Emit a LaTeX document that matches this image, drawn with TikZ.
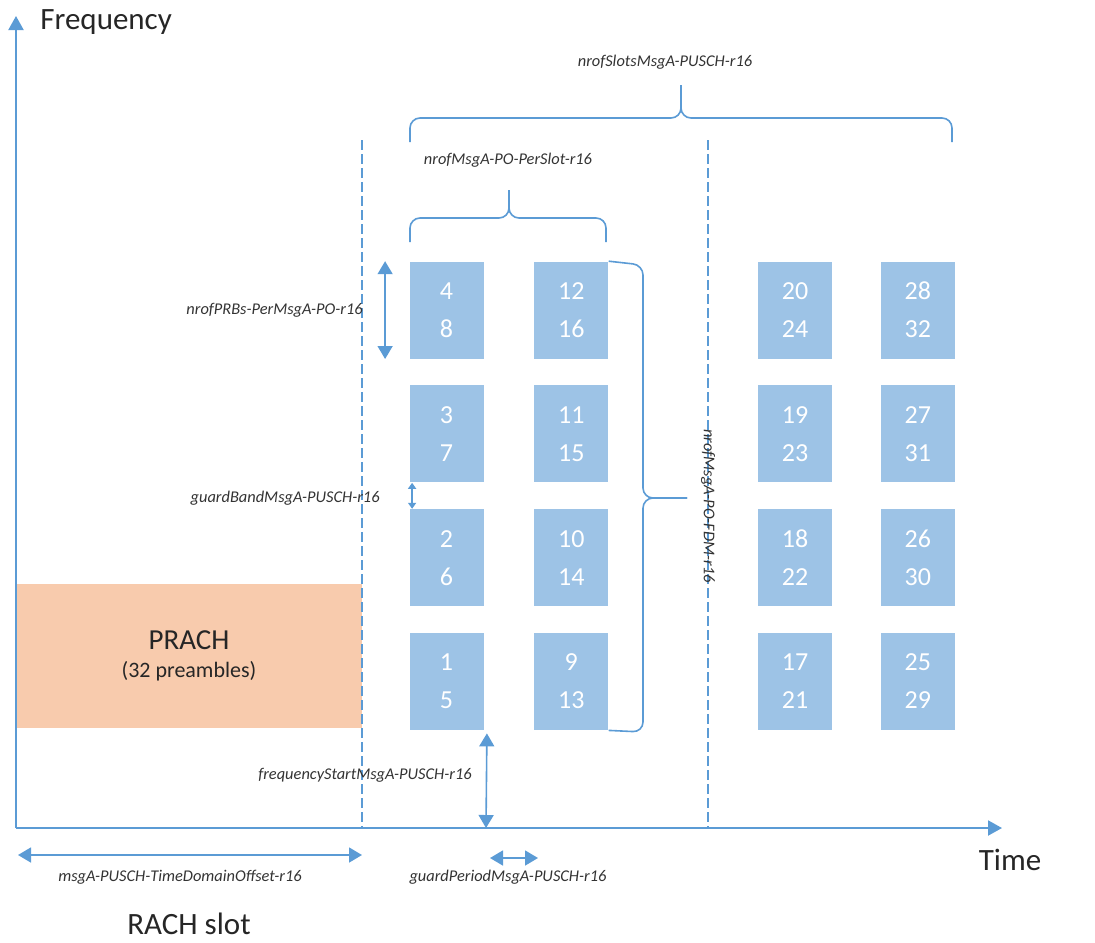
\documentclass[tikz,border=0pt]{standalone}
\usepackage{fontspec}
\setmainfont{Carlito}
\usetikzlibrary{arrows.meta}
\usetikzlibrary{positioning}
\definecolor{axblue}{HTML}{5B9BD5}
\definecolor{poblue}{HTML}{9DC3E6}
\definecolor{prachorange}{HTML}{F8CBAD}

\begin{document}
\begin{tikzpicture}[x=0.5pt,y=-0.5pt,
    po/.style={fill=poblue, text=white, minimum width=37pt, minimum height=48.5pt,
      inner sep=0pt, align=center, font=\fontsize{13}{19}\selectfont},
    lbl/.style={font=\fontsize{8.2}{9}\selectfont\itshape, text=black!80, inner sep=0pt},
    big/.style={font=\fontsize{15.5}{17}\selectfont, text=black!85, inner sep=0pt},
    dim/.style={draw=axblue, line width=0.8pt,
      {Triangle[width=7.5pt,length=6.5pt]}-{Triangle[width=7.5pt,length=6.5pt]}},
    gbdim/.style={draw=axblue, line width=0.8pt,
      {Triangle[width=4pt,length=3pt]}-{Triangle[width=4pt,length=3pt]}},
    axis/.style={draw=axblue, line width=1pt, -{Triangle[width=7.5pt,length=7pt]}},
    brc/.style={draw=axblue, line width=0.8pt, rounded corners=5pt},
    slot/.style={draw=axblue, line width=0.8pt, dash pattern=on 5pt off 2pt}]
  \useasboundingbox (0,0) rectangle (1095,942);

  \node[fill=prachorange, minimum width=173pt, minimum height=72pt, inner sep=0pt,
    align=center, text=black!85, font=\fontsize{14.5}{14}\selectfont] (pr) at (189,656)
    {PRACH\\{\fontsize{11}{14}\selectfont(32 preambles)}};

  \coordinate (o) at (16,828);
  \coordinate (fy) at (16,16);
  \coordinate (tx) at (1002,828);
  \coordinate (s1t) at (362,140);
  \coordinate (s1b) at (362,828);
  \coordinate (s2t) at (708,140);
  \coordinate (s2b) at (708,828);

  \draw[slot] (s1t) -- (s1b);
  \draw[slot] (s2t) -- (s2b);
  \draw[axis] (o) -- (fy);
  \draw[axis] (o) -- (tx);

  \node[po] (a1) at (446.5,681.5) {1\\5};
  \node[po, above=13pt of a1] (a2) {2\\6};
  \node[po, above=13pt of a2] (a3) {3\\7};
  \node[po, above=13pt of a3] (a4) {4\\8};
  \node[po, right=25pt of a1] (b1) {9\\13};
  \node[po, right=25pt of a2] (b2) {10\\14};
  \node[po, right=25pt of a3] (b3) {11\\15};
  \node[po, right=25pt of a4] (b4) {12\\16};
  \node[po, right=74.5pt of b1] (c1) {17\\21};
  \node[po, right=74.5pt of b2] (c2) {18\\22};
  \node[po, right=74.5pt of b3] (c3) {19\\23};
  \node[po, right=74.5pt of b4] (c4) {20\\24};
  \node[po, right=24pt of c1] (d1) {25\\29};
  \node[po, right=24pt of c2] (d2) {26\\30};
  \node[po, right=24pt of c3] (d3) {27\\31};
  \node[po, right=24pt of c4] (d4) {28\\32};

  \draw[brc] (410,142) -- (410,118) -- (681,118) -- (681,85);
  \draw[brc] (952,142) -- (952,118) -- (681,118) -- (681,85);
  \draw[brc] (410,242) -- (410,218) -- (509,218) -- (509,190);
  \draw[brc] (606,242) -- (606,218) -- (509,218) -- (509,190);
  \draw[brc] (b4.north east) -- (643,265) -- (643,498) -- (687,498);
  \draw[brc] (b1.south east) -- (643,732) -- (643,498) -- (687,498);

  \coordinate (fsb) at (486,828);
  \coordinate (tdl) at (18,855);
  \coordinate (tdr) at (362,855);
  \coordinate (gpl) at (490,858);
  \coordinate (gpr) at (538,858);

  \draw[dim] ([xshift=-12pt]a4.north west) -- ([xshift=-12pt]a4.south west);
  \draw[gbdim] ([xshift=1.5pt]a3.south west) -- ([xshift=1.5pt]a2.north west);
  \draw[dim] ([xshift=1.5pt,yshift=-1.5pt]a1.south east) -- (fsb);
  \draw[dim] (tdl) -- (tdr);
  \draw[dim] (gpl) -- (gpr);

  \node[big, anchor=west] (fl) at (40,22) {Frequency};
  \node[big] (tl) at (1010,860) {Time};
  \node[big] (rs) at (189,924) {RACH slot};

  \node[lbl] (ns) at (665,62) {nrofSlotsMsgA-PUSCH-r16};
  \node[lbl] (np) at (508,160) {nrofMsgA-PO-PerSlot-r16};
  \node[lbl, anchor=east] (nb) at (363,310) {nrofPRBs-PerMsgA-PO-r16};
  \node[lbl, anchor=east] (gb) at (380,498) {guardBandMsgA-PUSCH-r16};
  \node[lbl] (fs) at (365,775) {frequencyStartMsgA-PUSCH-r16};
  \node[lbl] (td) at (180,877) {msgA-PUSCH-TimeDomainOffset-r16};
  \node[lbl] (gp) at (508,877) {guardPeriodMsgA-PUSCH-r16};
  \node[lbl, rotate=-90] (fd) at (708,506) {nrofMsgA-PO-FDM-r16};
\end{tikzpicture}
\end{document}
